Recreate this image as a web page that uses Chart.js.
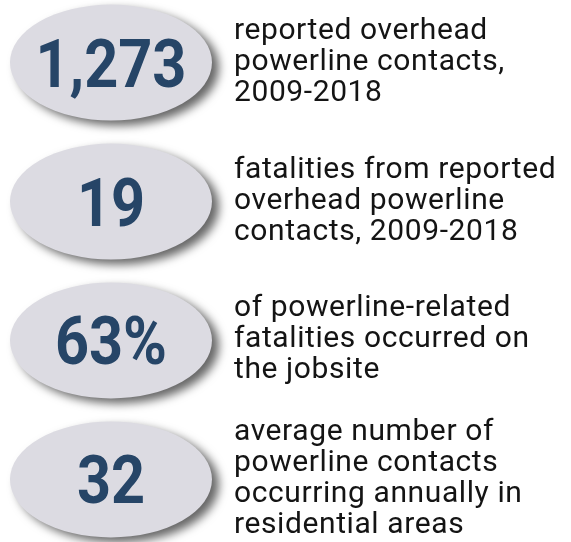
<!DOCTYPE html>
<html>
<head>
<meta charset="utf-8">
<title>Overhead powerline contacts</title>
<script src="https://cdn.jsdelivr.net/npm/chart.js@4.4.0/dist/chart.umd.min.js"></script>
<style>
  html, body { margin: 0; padding: 0; background: #fff; }
  #wrap { width: 571px; height: 542px; }
</style>
</head>
<body>
<div id="wrap"><canvas id="factChart" width="571" height="542"></canvas></div>
<script>
// headline figures, one per row
const figures = ['1,273', '19', '63%', '32'];

// caption lines next to each figure
const captions = [
    ['reported overhead', 'powerline contacts,', '2009-2018'],
    ['fatalities from reported', 'overhead powerline', 'contacts, 2009-2018'],
    ['of powerline-related', 'fatalities occurred on', 'the jobsite'],
    ['average number of', 'powerline contacts', 'occurring annually in', 'residential areas']
];

// draws the grey ovals, the figures and the captions at the points' pixels
const factsPlugin = {
    id: 'facts',
    afterDatasetsDraw(chart) {
        const ctx = chart.ctx;
        const meta = chart.getDatasetMeta(0);
        const rx = 101, ry = 58;
        meta.data.forEach((pt, i) => {
            const cx = pt.x, cy = pt.y;

            // oval with soft drop shadow
            ctx.save();
            ctx.shadowColor = 'rgba(0,0,0,0.6)';
            ctx.shadowBlur = 10;
            ctx.shadowOffsetX = 7;
            ctx.shadowOffsetY = 5;
            ctx.beginPath();
            ctx.ellipse(cx, cy, rx, ry, 0, 0, Math.PI * 2);
            ctx.fillStyle = '#dcdbe2';
            ctx.fill();
            ctx.restore();

            // big number, squeezed a little to look condensed
            ctx.save();
            ctx.translate(cx, cy + 24);
            ctx.scale(0.9, 1);
            ctx.font = '700 66px Roboto';
            ctx.fillStyle = '#264567';
            ctx.textAlign = 'center';
            ctx.textBaseline = 'alphabetic';
            ctx.fillText(figures[i], 0, 0);
            ctx.restore();

            // caption
            const lines = captions[i];
            const lh = 31;
            let y = cy + 7 - (lines.length - 1) / 2 * lh;
            ctx.save();
            ctx.font = '400 30px Roboto';
            ctx.letterSpacing = '0.6px';
            ctx.fillStyle = '#141414';
            ctx.textAlign = 'left';
            ctx.textBaseline = 'alphabetic';
            lines.forEach(line => {
                ctx.fillText(line, cx + 123, y);
                y += lh;
            });
            ctx.restore();
        });
    }
};

const ctx = document.getElementById('factChart').getContext('2d');
new Chart(ctx, {
    type: 'scatter',
    data: {
        labels: figures,
        datasets: [{
            data: figures.map((f, i) => ({ x: 0, y: i })),
            pointRadius: 0,
            pointHoverRadius: 0
        }]
    },
    options: {
        responsive: false,
        animation: false,
        layout: { padding: 0 },
        plugins: { legend: { display: false }, tooltip: { enabled: false } },
        scales: {
            x: { display: false, min: -0.55, max: 2.28 },
            y: { display: false, reverse: true, min: -0.45, max: 3.45 }
        }
    },
    plugins: [factsPlugin]
});
</script>
</body>
</html>
